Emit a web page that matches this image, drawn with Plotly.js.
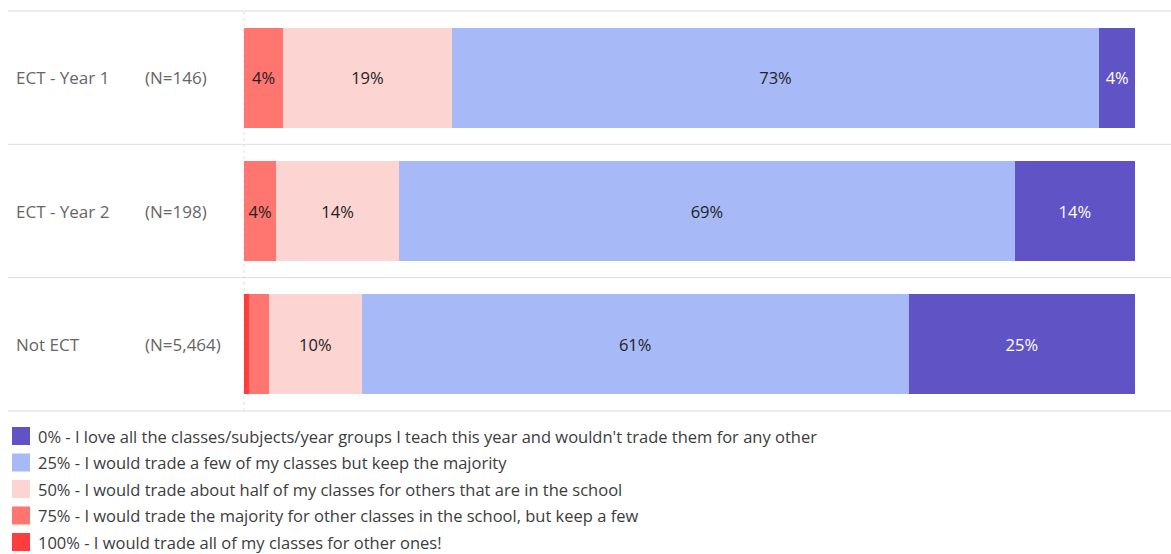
<!DOCTYPE html>
<html><head><meta charset="utf-8">
<script src="https://cdn.plot.ly/plotly-3.0.1.min.js"></script>
<style>html,body{margin:0;padding:0;background:#fff;}#chart{width:1171px;height:554px;}</style>
</head><body><div id="chart"></div>
<script>
const categories = ["ECT - Year 1", "ECT - Year 2", "Not ECT"];
const sampleSizes = ["(N=146)", "(N=198)", "(N=5,464)"];
const seriesNames = [
  "100% - I would trade all of my classes for other ones!",
  "75% - I would trade the majority for other classes in the school, but keep a few",
  "50% - I would trade about half of my classes for others that are in the school",
  "25% - I would trade a few of my classes but keep the majority",
  "0% - I love all the classes/subjects/year groups I teach this year and wouldn't trade them for any other"
];
const v100 = [0, 0, 0.6];
const v75 = [4.4, 3.6, 2.2];
const v50 = [18.9, 13.8, 10.4];
const v25 = [72.7, 69.1, 61.4];
const v0 = [4.0, 13.5, 25.4];
const seriesValues = [v100, v75, v50, v25, v0];
const colors = ["#ff3d3d", "#ff7570", "#fcd4d2", "#a7baf7", "#5f53c6"];
const textColors = ["#222", "#222", "#222", "#222", "#ffffff"];

const font = "'Open Sans', sans-serif";
const traces = seriesValues.map((vals, i) => ({
  type: "bar", orientation: "h",
  name: seriesNames[i], y: categories, x: vals,
  marker: {color: colors[i], line: {width: 0}},
  text: vals.map(v => v >= 3 ? Math.round(v) + "%" : ""),
  textposition: "inside", insidetextanchor: "middle", textangle: 0,
  constraintext: "none",
  textfont: {color: textColors[i], size: 16.5, family: font},
  hoverinfo: "skip"
}));

const plotL = 244, plotW = 891, plotT = 11, plotH = 400;
const px = x => (x - plotL) / plotW;
const py = y => (plotT + plotH - y) / plotH;

const annotations = [];
const shapes = [];
categories.forEach((c, i) => {
  annotations.push({xref: "paper", yref: "y", x: px(14), y: c, text: c, showarrow: false,
    xanchor: "left", yanchor: "middle", font: {size: 17, color: "#666", family: font}});
  annotations.push({xref: "paper", yref: "y", x: px(143), y: c, text: sampleSizes[i], showarrow: false,
    xanchor: "left", yanchor: "middle", font: {size: 17, color: "#666", family: font}});
});

// legend (drawn manually, top item = last series)
const legendTop = 436, legendStep = 26.5;
for (let k = 0; k < seriesNames.length; k++) {
  const idx = seriesNames.length - 1 - k;
  const cy = legendTop + k * legendStep;
  shapes.push({type: "rect", xref: "paper", yref: "paper", x0: px(12), x1: px(30),
    y0: py(cy - 9), y1: py(cy + 9), fillcolor: colors[idx], line: {width: 0}});
  annotations.push({xref: "paper", yref: "paper", x: px(37), y: py(cy), text: seriesNames[idx],
    showarrow: false, xanchor: "left", yanchor: "middle", borderpad: 0,
    font: {size: 16.5, color: "#3c3c3c", family: font}});
}

[0, 1, 2, 3].forEach(k => {
  shapes.push({type: "line", xref: "paper", yref: "paper", x0: px(8), x1: px(1171),
    y0: 1 - k / 3, y1: 1 - k / 3, line: {color: "#dcdcdc", width: 1}});
});
shapes.push({type: "line", xref: "paper", yref: "paper", x0: 0, x1: 0, y0: 0, y1: 1, layer: "below",
  line: {color: "#e0e0e0", width: 1, dash: "dot"}});

const layout = {
  width: 1171, height: 554,
  margin: {l: plotL, r: 1171 - plotL - plotW, t: plotT, b: 554 - plotT - plotH},
  barmode: "stack", bargap: 0.25,
  paper_bgcolor: "#fff", plot_bgcolor: "rgba(0,0,0,0)",
  xaxis: {range: [0, 100], visible: false, fixedrange: true},
  yaxis: {autorange: "reversed", showticklabels: false, showgrid: false, zeroline: false, fixedrange: true},
  showlegend: false,
  annotations: annotations, shapes: shapes,
  font: {family: font}
};
Plotly.newPlot("chart", traces, layout, {displayModeBar: false, staticPlot: true});
</script></body></html>
